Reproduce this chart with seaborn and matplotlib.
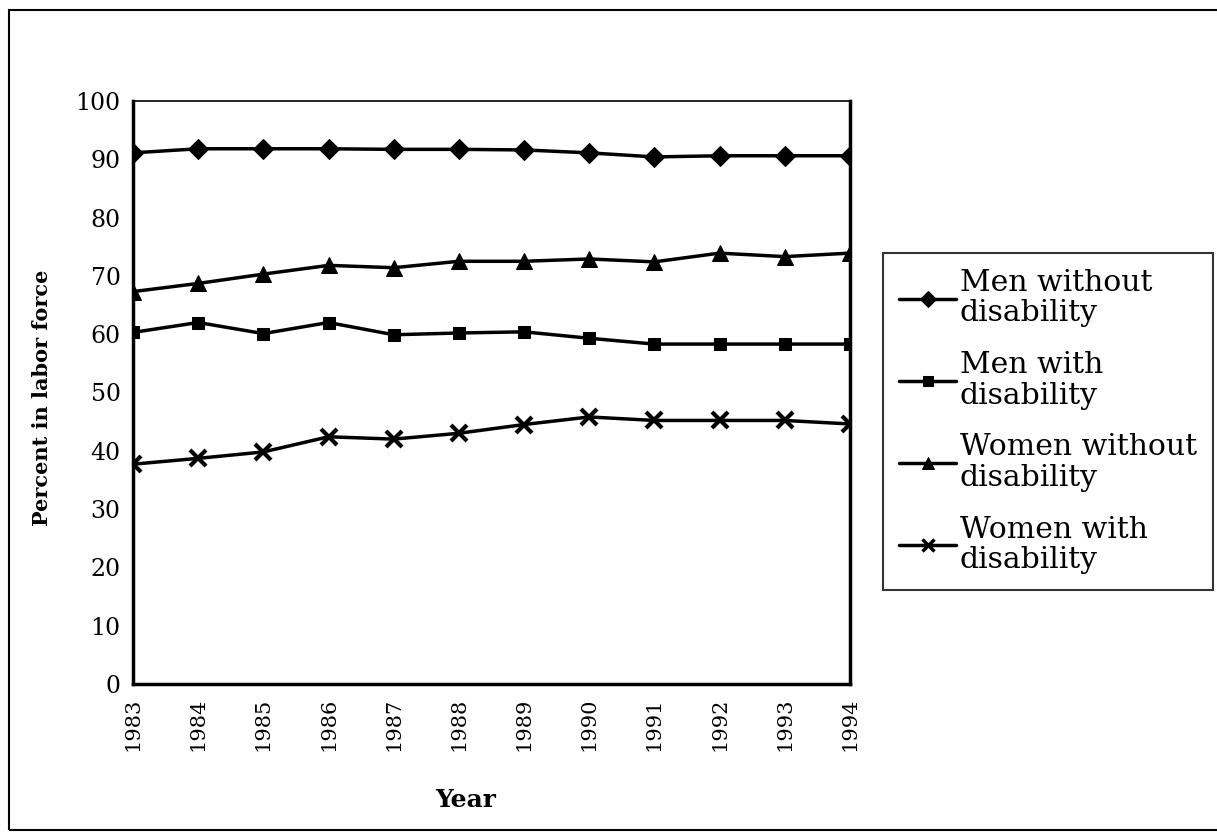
import pandas as pd
import matplotlib
import matplotlib.pyplot as plt
import seaborn as sns
from matplotlib.patches import Rectangle

matplotlib.use('Agg')

# values (percent in labor force)
years = [1983, 1984, 1985, 1986, 1987, 1988, 1989, 1990, 1991, 1992, 1993, 1994]
men_without = [91.1, 91.8, 91.8, 91.8, 91.7, 91.7, 91.6, 91.1, 90.4, 90.6, 90.6, 90.6]
men_with = [60.3, 62.0, 60.1, 62.0, 59.9, 60.2, 60.4, 59.3, 58.3, 58.3, 58.3, 58.3]
women_without = [67.3, 68.7, 70.3, 71.8, 71.4, 72.5, 72.5, 72.9, 72.4, 73.9, 73.3, 73.9]
women_with = [37.7, 38.7, 39.8, 42.4, 42.0, 43.0, 44.5, 45.8, 45.2, 45.2, 45.2, 44.6]
series_names = ['Men without\ndisability', 'Men with\ndisability',
                'Women without\ndisability', 'Women with\ndisability']

frames = []
for name, vals in zip(series_names, [men_without, men_with, women_without, women_with]):
    frames.append(pd.DataFrame({'Year': years, 'Percent': vals, 'Group': name}))
df = pd.concat(frames, ignore_index=True)

sns.set_style('white', {'text.color': 'black', 'xtick.color': 'black',
                        'ytick.color': 'black', 'axes.labelcolor': 'black'})
plt.rcParams['font.family'] = ['DejaVu Serif']

fig = plt.figure(figsize=(12.17, 8.33), dpi=100)
ax = fig.add_axes([0.1093, 0.1789, 0.589, 0.6999])

sns.lineplot(data=df, x='Year', y='Percent', hue='Group', style='Group',
             palette=['black'] * 4, markers=['D', 's', '^', 'X'], dashes=False,
             markersize=11, linewidth=2.5, markeredgecolor='black', ax=ax)
# marker sizes per series, last one is a thin cross
sizes = [10, 9, 11, 11]
for line, ms in zip(ax.lines[:4], sizes):
    line.set_markersize(ms)
ax.lines[3].set_marker('x')
ax.lines[3].set_markeredgewidth(3)

ax.set_xlim(years[0], years[-1])
ax.set_ylim(0, 100)
ax.set_xticks(years)
ax.set_xticklabels([str(y) for y in years], rotation=90, fontsize=15)
ax.set_yticks(range(0, 101, 10))
ax.tick_params(axis='y', labelsize=17, direction='inout', length=10, width=1.5, pad=4)
ax.tick_params(axis='x', direction='inout', length=10, width=1.5, pad=5)
for side in ['left', 'bottom', 'right']:
    ax.spines[side].set_linewidth(2.5)
ax.spines['top'].set_linewidth(1.2)
for sp in ax.spines.values():
    sp.set_color('black')

ax.set_xlabel('Year', fontsize=18, fontweight='bold')
ax.xaxis.set_label_coords(0.464, -0.199)
ax.set_ylabel('Percent in labor force', fontsize=15, fontweight='bold')
ax.yaxis.set_label_coords(-0.127, 0.49)
ax.xaxis.label.set_va('center')
ax.yaxis.label.set_va('center')

leg = ax.legend(loc='upper left', bbox_to_anchor=(0.7255, 0.6965),
                bbox_transform=fig.transFigure, fontsize=21.5, frameon=True,
                fancybox=False, edgecolor='black', handlelength=1.9,
                handletextpad=0.12, labelspacing=0.8, borderpad=0.55,
                borderaxespad=0)
leg.get_frame().set_linewidth(1.5)
for t in leg.get_texts():
    t.set_linespacing(1.1)
leg_sizes = [8, 7, 8, 9]
for h, ms in zip(leg.legend_handles, leg_sizes):
    h.set_markersize(ms)
leg.legend_handles[3].set_marker('x')
leg.legend_handles[3].set_markeredgewidth(2.5)

# outer frame around the whole chart (right edge runs off the picture)
fig.patches.append(Rectangle((0.007, 0.004), 1.0, 0.984, transform=fig.transFigure,
                             fill=False, edgecolor='black', linewidth=1.5))

fig.savefig('out.png', dpi=100)
plt.close(fig)
